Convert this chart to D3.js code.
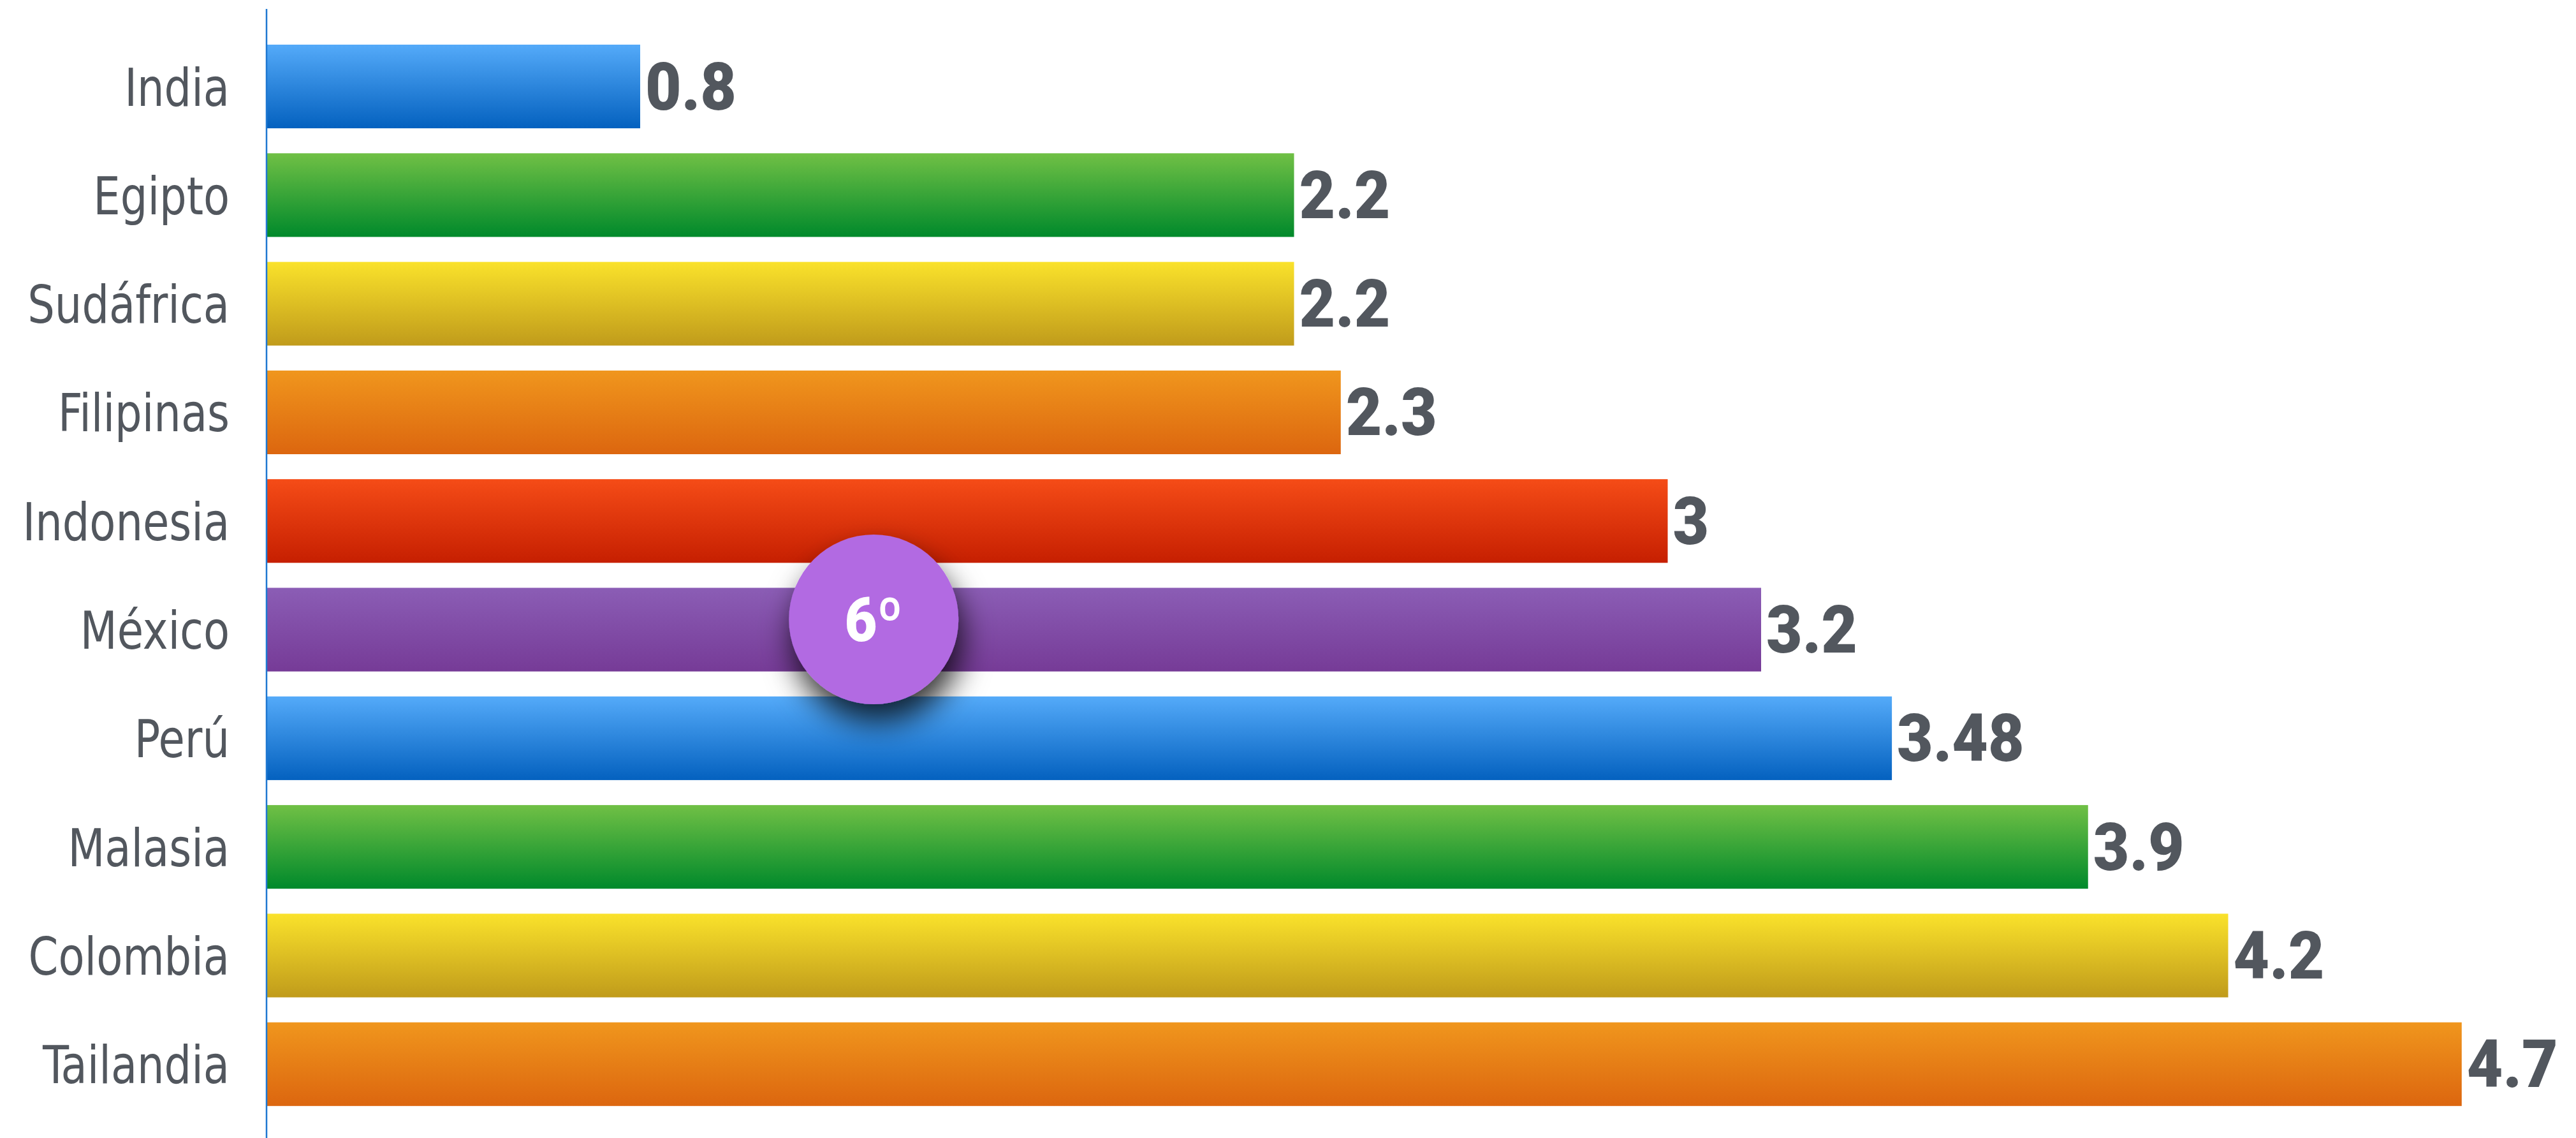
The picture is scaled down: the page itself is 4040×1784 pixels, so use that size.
<!DOCTYPE html>
<html>
<head>
<meta charset="utf-8">
<script src="https://cdn.jsdelivr.net/npm/d3@7"></script>
<style>
  html, body { margin: 0; padding: 0; background: #ffffff; }
  svg { display: block; }
</style>
</head>
<body>
<div id="chart"></div>
<script>
const categories = ["India", "Egipto", "Sudáfrica", "Filipinas", "Indonesia", "México", "Perú", "Malasia", "Colombia", "Tailandia"];
const values = [0.8, 2.2, 2.2, 2.3, 3, 3.2, 3.48, 3.9, 4.2, 4.7];
const colorTop = ["#54aaf9", "#70c045", "#fae22b", "#f0961d", "#f54c17", "#8b5db5", "#54aaf9", "#70c045", "#fae22b", "#f0961d"];
const colorBottom = ["#0461bf", "#00892b", "#c09b1b", "#dc660f", "#c61f01", "#763b97", "#0461bf", "#00892b", "#c09b1b", "#dc660f"];
const badgeCategory = "México";
const badgeLabel = "6º";
const badgeValue = 1.3;

const W = 4040, H = 1784;
const svg = d3.select("#chart").append("svg").attr("width", W).attr("height", H);

const x = d3.scaleLinear().domain([0, 5]).range([418, 4080.5]);
const y = d3.scaleBand().domain(categories).range([50.4, 1753.4]).paddingInner(0.23).paddingOuter(0.115);

const defs = svg.append("defs");
categories.forEach((c, i) => {
  const g = defs.append("linearGradient").attr("id", "grad" + i)
    .attr("x1", 0).attr("y1", 0).attr("x2", 0).attr("y2", 1);
  g.append("stop").attr("offset", "0%").attr("stop-color", colorTop[i]);
  g.append("stop").attr("offset", "100%").attr("stop-color", colorBottom[i]);
});
const f = defs.append("filter").attr("id", "shadow")
  .attr("x", "-60%").attr("y", "-60%").attr("width", "220%").attr("height", "220%");
f.append("feDropShadow").attr("dx", 6).attr("dy", 28).attr("stdDeviation", 24)
  .attr("flood-color", "#000").attr("flood-opacity", 0.8);

// bars
svg.append("g").selectAll("rect").data(categories).join("rect")
  .attr("x", x(0))
  .attr("y", d => y(d))
  .attr("width", (d, i) => x(values[i]) - x(0))
  .attr("height", y.bandwidth())
  .attr("fill", (d, i) => `url(#grad${i})`);

// value labels
svg.append("g").selectAll("text").data(categories).join("text")
  .attr("transform", (d, i) => `translate(${x(values[i]) + 8},${y(d) + y.bandwidth() / 2 + 36}) scale(0.94,1)`)
  .attr("font-family", "Roboto, 'DejaVu Sans', sans-serif")
  .attr("font-weight", 900)
  .attr("font-size", 104)
  .attr("fill", "#52575e")
  .text((d, i) => String(values[i]));

// axis (category labels + line)
const axis = d3.axisLeft(y).tickSize(0).tickPadding(0);
const ag = svg.append("g").attr("transform", `translate(${x(0)},0)`).call(axis);
ag.select(".domain").remove();
ag.selectAll(".tick text")
  .attr("font-family", "'DejaVu Sans Condensed', 'Liberation Sans Narrow', sans-serif")
  .attr("font-size", 82)
  .attr("fill", "#52575e")
  .attr("dy", null)
  .attr("x", 0)
  .attr("y", 0)
  .attr("transform", "translate(-58,30) scale(0.91,1)");

svg.append("line")
  .attr("x1", x(0)).attr("x2", x(0))
  .attr("y1", 14).attr("y2", H)
  .attr("stroke", "#1f78d1").attr("stroke-width", 2.5);

// badge
const bx = x(badgeValue), by = y(badgeCategory) + y.bandwidth() / 2 - 16;
svg.append("circle").attr("cx", bx).attr("cy", by).attr("r", 133)
  .attr("fill", "#b26ae2").attr("filter", "url(#shadow)");
svg.append("text")
  .attr("transform", `translate(${bx},${by + 34}) scale(0.92,1)`)
  .attr("text-anchor", "middle")
  .attr("font-family", "Roboto, 'DejaVu Sans', sans-serif")
  .attr("font-weight", 900)
  .attr("font-size", 96)
  .attr("fill", "#ffffff")
  .text(badgeLabel);
</script>
</body>
</html>
